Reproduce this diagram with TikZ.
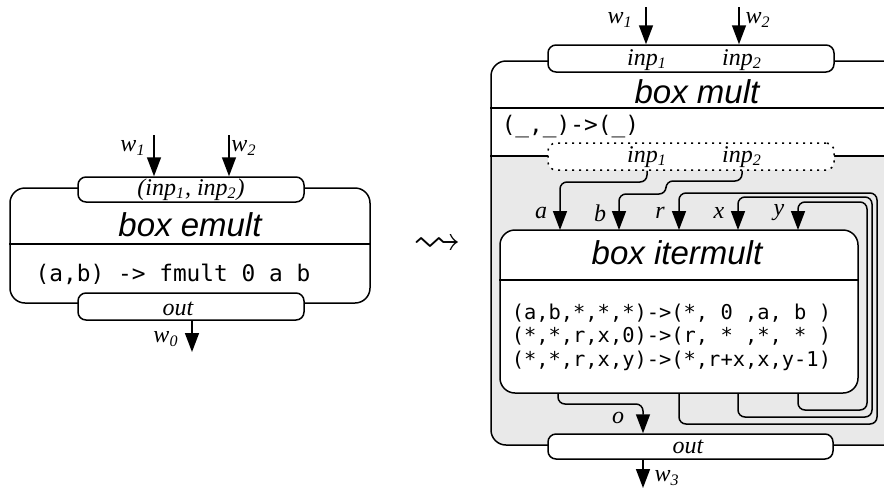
\documentclass[tikz,border=0pt]{standalone}
\usepackage{amssymb}
\usepackage{fontspec}
\setmainfont{Liberation Serif}
\newfontfamily\helvfont{Liberation Sans}
\setmonofont{DejaVu Sans Mono}
\usetikzlibrary{arrows.meta}
\definecolor{shadegray}{HTML}{E9E9E9}

\begin{document}
\begin{tikzpicture}[x=0.5pt,y=-0.5pt,line width=0.75pt,
   boxtitle/.style={font=\helvfont\itshape\fontsize{16.5}{18}\selectfont,inner sep=0pt},
   lbl/.style={font=\itshape\fontsize{12}{13}\selectfont,inner sep=0pt},
   code/.style={font=\ttfamily\fontsize{11.4}{13}\selectfont,inner sep=0pt,anchor=west},
   pill/.style={draw,fill=white,rounded corners=4pt,minimum width=143pt,minimum height=13.5pt,inner sep=0pt,
     font=\itshape\fontsize{12}{13}\selectfont},
   boxshape/.style={draw,rounded corners=7.5pt,inner sep=0pt},
   wire/.style={-{Triangle[length=9.5pt,width=7pt]}},
   loop/.style={rounded corners=3.5pt}]
\useasboundingbox (0,0) rectangle (884,494);
\clip (0,0) rectangle (884,494);

% box emult
\node[boxshape,minimum width=180pt,minimum height=57.5pt] (emult) at (190,245.5) {};
\draw (emult.west |- 0,244) -- (emult.east |- 0,244);
\node[boxtitle] at (190,225) {box emult};
\node[code] at (35,274) {(a,b) -> fmult 0 a b};
\node[pill,minimum width=113pt,minimum height=12.5pt] (emultin) at (191,189.5) {(inp\textsubscript{1}, inp\textsubscript{2})};
\node[pill,minimum width=113pt] (emultout) at (191,306.5) {};
\node[lbl] at (178,309) {out};
\coordinate (w1L) at (154,135);
\coordinate (w2L) at (229,135);
\coordinate (w0L) at (192,352);
\draw[wire] (w1L) -- (emultin.north -| w1L);
\draw[wire] (w2L) -- (emultin.north -| w2L);
\draw[wire] (emultout.south -| w0L) -- (w0L);
\node[lbl] at (133,148) {w\textsubscript{1}};
\node[lbl] at (244,148) {w\textsubscript{2}};
\node[lbl] at (166,339) {w\textsubscript{0}};

\node[font=\fontsize{24}{24}\selectfont] (leads) at (437,245) {$\leadsto$};

% box mult
\fill[shadegray] (491,156) [rounded corners=7.5pt] -- (491,445) -- (900,445) [sharp corners] -- (900,156) -- cycle;
\node[boxshape,minimum width=204.5pt,minimum height=192pt] (mult) at (695.5,253) {};
\draw (mult.west |- 0,108) -- (mult.east |- 0,108);
\draw (mult.west |- 0,156) -- (mult.east |- 0,156);
\node[boxtitle] at (697,92) {box mult};
\node[code] at (501,127) {(\_,\_)->(\_)};
\node[pill] (multin) at (691,58.5) {};
\node[lbl] (inpa) at (647,60) {inp\textsubscript{1}};
\node[lbl] (inpb) at (742,60) {inp\textsubscript{2}};
\node[pill,dash pattern=on 1pt off 2.5pt] (dotin) at (691,156.5) {};
\node[lbl] (dinpa) at (647,157) {inp\textsubscript{1}};
\node[lbl] (dinpb) at (742,157) {inp\textsubscript{2}};
\coordinate (w1R) at (646,7);
\coordinate (w2R) at (739,7);
\draw[wire] (w1R) -- (multin.north -| w1R);
\draw[wire] (w2R) -- (multin.north -| w2R);
\node[lbl] at (620,20) {w\textsubscript{1}};
\node[lbl] at (758,20) {w\textsubscript{2}};

% box itermult
\node[boxshape,fill=white,minimum width=179pt,minimum height=81.5pt] (itermult) at (679,311.5) {};
\draw (itermult.west |- 0,280) -- (itermult.east |- 0,280);
\node[boxtitle] at (677,253) {box itermult};
\node[code,font=\ttfamily\fontsize{10.2}{11.8}\selectfont,align=left] at (511,337)
  {(a,b,*,*,*)->(*, 0 ,a, b )\\(*,*,r,x,0)->(r, * ,*, * )\\(*,*,r,x,y)->(*,r+x,x,y-1)};
\foreach \n/\x in {a/560,b/619,r/679,x/738,y/798}{
  \coordinate (port\n) at (\x,230);
  \node[lbl] at (\x-19,213) {\n};
}
\draw[wire,loop] (dinpa |- dotin.south) -- (647,182) -- (560,182) -- (porta);
\draw[wire,loop] (dinpb |- dotin.south) -- (742,181) -- (666,181) -- (666,194) -- (619,194) -- (portb);
\draw[wire,loop] (portr |- itermult.south) -- (679,424) -- (877,424) -- (877,193) -- (679,193) -- (portr);
\draw[wire,loop] (portx |- itermult.south) -- (738,417) -- (872,417) -- (872,197) -- (738,197) -- (portx);
\draw[wire,loop] (porty |- itermult.south) -- (798,410) -- (867,410) -- (867,202) -- (798,202) -- (porty);

% output
\node[pill,minimum width=142.5pt,minimum height=12.5pt] (multout) at (690.5,446.5) {};
\node[lbl] at (688,447) {out};
\draw[wire,loop] (itermult.south -| 558,0) -- (558,404) -- (643,404) -- (multout.north -| 643,0);
\node[lbl] at (618,418) {o};
\coordinate (w3R) at (643,488);
\draw[wire] (multout.south -| w3R) -- (w3R);
\node[lbl] at (667,478) {w\textsubscript{3}};
\end{tikzpicture}
\end{document}
